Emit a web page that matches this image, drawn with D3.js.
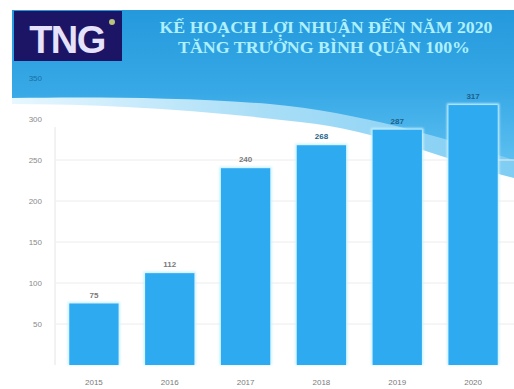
<!DOCTYPE html>
<html>
<head>
<meta charset="utf-8">
<script src="https://cdn.jsdelivr.net/npm/d3@7"></script>
<style>
  html, body { margin: 0; padding: 0; background: #fff; }
  svg { display: block; }
</style>
</head>
<body>
<svg id="chart" width="514" height="389"></svg>
<script>
// Profit plan data (billion VND)
const years = ["2015", "2016", "2017", "2018", "2019", "2020"];
const profits = [75, 112, 240, 268, 287, 317];
const yTicks = [50, 100, 150, 200, 250, 300, 350];
const titleLines = ["KẾ HOẠCH LỢI NHUẬN ĐẾN NĂM 2020", "TĂNG TRƯỞNG BÌNH QUÂN 100%"];

const svg = d3.select("#chart");
const W = 514, H = 389;

const x = d3.scaleBand().domain(years).range([56, 511]).paddingInner(0.35).paddingOuter(0.175);
const y = d3.scaleLinear().domain([0, 350]).range([365, 78]);

const defs = svg.append("defs");
const g1 = defs.append("linearGradient").attr("id", "hdr").attr("x1", 0).attr("y1", 0).attr("x2", 0).attr("y2", 1);
g1.append("stop").attr("offset", "0%").attr("stop-color", "#2499dc");
g1.append("stop").attr("offset", "55%").attr("stop-color", "#38a9e6");
g1.append("stop").attr("offset", "100%").attr("stop-color", "#5cbff0");
const g2 = defs.append("linearGradient").attr("id", "swoosh").attr("x1", 0).attr("y1", 0).attr("x2", 1).attr("y2", 0);
g2.append("stop").attr("offset", "0%").attr("stop-color", "#e8f7ff");
g2.append("stop").attr("offset", "50%").attr("stop-color", "#a9def7");
g2.append("stop").attr("offset", "100%").attr("stop-color", "#7fcdf3");
const glow = defs.append("filter").attr("id", "glow").attr("x", "-20%").attr("y", "-20%").attr("width", "140%").attr("height", "140%");
glow.append("feGaussianBlur").attr("stdDeviation", 1.2);

// header band with wavy lower edge
svg.append("path")
  .attr("d", "M12,10 H514 V178 C 460,165 380,130 300,122 C 200,110 100,104 12,104 Z")
  .attr("fill", "url(#swoosh)");
svg.append("path")
  .attr("d", "M12,10 H514 V160 C 450,140 360,112 270,104 C 180,97 90,97 12,98 Z")
  .attr("fill", "url(#hdr)");

// gridlines
svg.append("g").selectAll("line").data(yTicks).join("line")
  .attr("x1", 56).attr("x2", W).attr("y1", d => y(d)).attr("y2", d => y(d))
  .attr("stroke", "#ececec").attr("stroke-width", 1)
  .attr("opacity", d => d >= 300 ? 0 : 1);

// y axis
const yAxis = svg.append("g").attr("transform", "translate(55,0)")
  .call(d3.axisLeft(y).tickValues(yTicks).tickSize(0).tickPadding(13));
yAxis.select(".domain").attr("stroke", "#e4e4e4").attr("d", `M0,${y(290)}V${y(0)}`);
yAxis.selectAll("text")
  .attr("font-family", "Liberation Sans, Arial, sans-serif").attr("font-size", 8)
  .attr("fill", d => d === 350 ? "#1a6fa6" : "#8a8a8a");

// bars with soft glow outline
const bars = svg.append("g");
bars.selectAll("rect.halo").data(years).join("rect").attr("class", "halo")
  .attr("x", d => x(d) - 1.5).attr("width", x.bandwidth() + 3)
  .attr("y", (d, i) => y(profits[i]) - 1.5).attr("height", (d, i) => y(0) - y(profits[i]) + 1.5)
  .attr("fill", "#c9f1ff").attr("filter", "url(#glow)");
bars.selectAll("rect.bar").data(years).join("rect").attr("class", "bar")
  .attr("x", d => x(d)).attr("width", x.bandwidth())
  .attr("y", (d, i) => y(profits[i])).attr("height", (d, i) => y(0) - y(profits[i]))
  .attr("fill", "#2eaaf0");

// value labels
svg.append("g").selectAll("text").data(years).join("text")
  .attr("x", d => x(d) + x.bandwidth() / 2)
  .attr("y", (d, i) => y(profits[i]) - 6)
  .attr("text-anchor", "middle")
  .attr("font-family", "Liberation Sans, Arial, sans-serif").attr("font-size", 8).attr("font-weight", "bold")
  .attr("fill", (d, i) => profits[i] > 260 ? "#1f5f8a" : "#7a7a7a")
  .text((d, i) => profits[i]);

// x axis labels
const xAxis = svg.append("g").attr("transform", `translate(0,${y(0)})`)
  .call(d3.axisBottom(x).tickSize(0).tickPadding(14));
xAxis.select(".domain").remove();
xAxis.selectAll("text")
  .attr("font-family", "Liberation Sans, Arial, sans-serif").attr("font-size", 8)
  .attr("fill", "#7a7a7a");

// logo
svg.append("rect").attr("x", 14).attr("y", 11).attr("width", 108).attr("height", 50).attr("fill", "#1c1566");
svg.append("text").attr("x", 67).attr("y", 53).attr("text-anchor", "middle")
  .attr("font-family", "Liberation Sans, Arial, sans-serif").attr("font-size", 38).attr("font-weight", "bold")
  .attr("fill", "#e6e2fb").attr("letter-spacing", -1.5).text("TNG");
svg.append("circle").attr("cx", 112).attr("cy", 22).attr("r", 3).attr("fill", "#b9c27a");

// title
svg.append("g").selectAll("text").data(titleLines).join("text")
  .attr("x", (d, i) => i === 0 ? 326 : 324).attr("y", (d, i) => 33 + i * 20)
  .attr("text-anchor", "middle")
  .attr("font-family", "Liberation Serif, Times New Roman, serif").attr("font-size", 16).attr("font-weight", "bold")
  .attr("fill", "#aef0ff")
  .attr("textLength", (d, i) => i === 0 ? 333 : 292).attr("lengthAdjust", "spacingAndGlyphs")
  .text(d => d);
</script>
</body>
</html>
